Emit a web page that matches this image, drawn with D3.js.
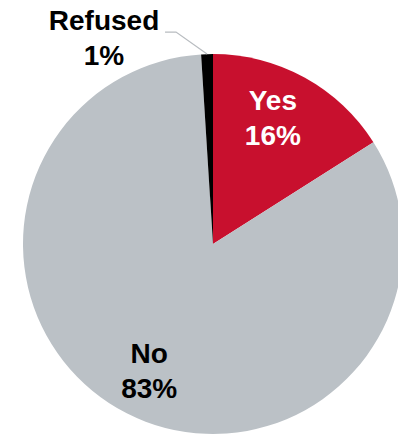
<!DOCTYPE html>
<html>
<head>
<meta charset="utf-8">
<script src="https://cdn.jsdelivr.net/npm/d3@7"></script>
<style>
  body { margin: 0; background: #fff; }
  text { font-family: "Liberation Sans", Arial, sans-serif; font-weight: bold; }
</style>
</head>
<body>
<svg id="chart" width="398" height="437"></svg>
<script>
/* Data */
const categories = ['Yes', 'No', 'Refused'];
const values = [16, 83, 1];
const colors = ['#c8102e', '#bbc1c6', '#000000'];

/* SVG */
const svg = d3.select('#chart');
const cx = 213, cy = 244, radius = 190;

const g = svg.append('g').attr('transform', `translate(${cx},${cy})`);

const pie = d3.pie().sort(null).value(d => d.value);
const arc = d3.arc().innerRadius(0).outerRadius(radius);
const labelArc = d3.arc().innerRadius(145).outerRadius(145);

const data = categories.map((c, i) => ({ name: c, value: values[i], color: colors[i] }));
const arcs = pie(data);

// slices
g.selectAll('path.slice')
  .data(arcs)
  .enter().append('path')
  .attr('class', 'slice')
  .attr('d', arc)
  .attr('fill', d => d.data.color);

// inside labels (Yes, No)
const nudge = { Yes: [-10, 0], No: [2, -3] };
const inside = g.selectAll('text.inside')
  .data(arcs.filter(d => d.data.name !== 'Refused'))
  .enter().append('text')
  .attr('class', 'inside')
  .attr('text-anchor', 'middle')
  .attr('font-size', 28)
  .attr('fill', d => d.data.name === 'Yes' ? '#fff' : '#000')
  .attr('transform', d => {
    const c = labelArc.centroid(d);
    const n = nudge[d.data.name];
    return `translate(${c[0] + n[0]},${c[1] + n[1]})`;
  });
inside.append('tspan').attr('x', 0).attr('y', -7).text(d => d.data.name);
inside.append('tspan').attr('x', 0).attr('y', 28).text(d => d.data.value + '%');

// outside label (Refused) with leader line
const refused = arcs.find(d => d.data.name === 'Refused');
const mid = (refused.startAngle + refused.endAngle) / 2;
const p0 = [Math.sin(mid) * radius, -Math.cos(mid) * radius];
const p1 = [p0[0] - 31, p0[1] - 22];
const p2 = [p1[0] - 11, p1[1]];

g.append('polyline')
  .attr('points', [p0, p1, p2].map(p => p.join(',')).join(' '))
  .attr('fill', 'none')
  .attr('stroke', '#b8bcc0')
  .attr('stroke-width', 1.2);

const outLabel = g.append('text')
  .attr('text-anchor', 'middle')
  .attr('font-size', 28)
  .attr('fill', '#000')
  .attr('transform', `translate(${p2[0] - 61},${p2[1]})`);
outLabel.append('tspan').attr('x', 0).attr('y', -2).text(refused.data.name);
outLabel.append('tspan').attr('x', 0).attr('y', 33).text(refused.data.value + '%');
</script>
</body>
</html>
